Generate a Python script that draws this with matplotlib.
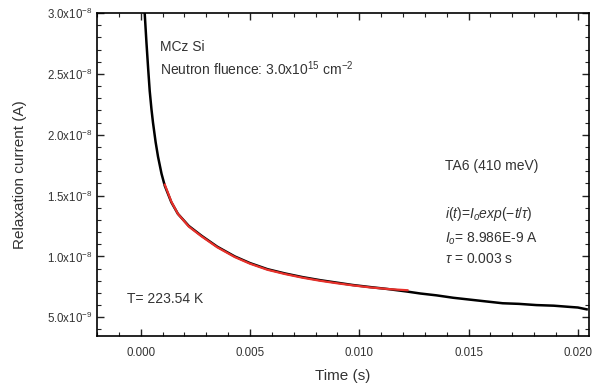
import numpy as np
import matplotlib
matplotlib.use("Agg")
import matplotlib.pyplot as plt
from matplotlib.ticker import FuncFormatter, MultipleLocator

plt.rcParams["font.family"] = ["Liberation Sans", "DejaVu Sans"]
plt.rcParams["mathtext.fontset"] = "custom"
plt.rcParams["mathtext.rm"] = "Liberation Sans"
plt.rcParams["mathtext.it"] = "Liberation Sans:italic"

t_data = [0.00010, 0.00018, 0.00026, 0.00034, 0.00041, 0.00049, 0.00056, 0.00068,
          0.00079, 0.00095, 0.00110, 0.00140, 0.00170, 0.00220, 0.00278, 0.00350,
          0.00430, 0.00500, 0.00580, 0.00660, 0.00740, 0.00820, 0.00895, 0.00970,
          0.01050, 0.01130, 0.01215, 0.01280, 0.01353, 0.01430, 0.01505, 0.01580,
          0.01656, 0.01730, 0.01810, 0.01890, 0.01962, 0.02000, 0.02040]
i_data = [3.25e-8, 3.00e-8, 2.76e-8, 2.54e-8, 2.36e-8, 2.21e-8, 2.10e-8, 1.94e-8,
          1.82e-8, 1.68e-8, 1.58e-8, 1.445e-8, 1.35e-8, 1.25e-8, 1.17e-8, 1.08e-8,
          1.00e-8, 9.45e-9, 8.95e-9, 8.60e-9, 8.30e-9, 8.05e-9, 7.85e-9, 7.65e-9,
          7.48e-9, 7.32e-9, 7.12e-9, 6.95e-9, 6.80e-9, 6.60e-9, 6.45e-9, 6.30e-9,
          6.15e-9, 6.10e-9, 6.00e-9, 5.95e-9, 5.85e-9, 5.80e-9, 5.65e-9]

# exponential fit segment
t_fit = [0.00110, 0.00140, 0.00170, 0.00220, 0.00278, 0.00350, 0.00430, 0.00500,
         0.00580, 0.00660, 0.00740, 0.00820, 0.00895, 0.00970, 0.01050, 0.01130, 0.01220]
i_fit = [1.59e-8, 1.45e-8, 1.35e-8, 1.245e-8, 1.165e-8, 1.075e-8, 9.95e-9, 9.40e-9,
         8.90e-9, 8.55e-9, 8.25e-9, 8.00e-9, 7.80e-9, 7.62e-9, 7.45e-9, 7.32e-9, 7.22e-9]

y_ticks = [5e-9, 1.0e-8, 1.5e-8, 2.0e-8, 2.5e-8, 3.0e-8]
x_ticks = [0.000, 0.005, 0.010, 0.015, 0.020]


def sci_fmt(v, pos):
    if v <= 0:
        return ""
    e = int(np.floor(np.log10(v) + 1e-9))
    m = v / 10 ** e
    return r"%.1fx10$^{%d}$" % (m, e)


fig = plt.figure(figsize=(5.99, 3.85), dpi=100)
ax = fig.add_axes([0.162, 0.127, 0.821, 0.839])

ax.plot(t_data, i_data, color="black", lw=1.8, zorder=2)
ax.plot(t_fit, i_fit, color="#e8302a", lw=1.6, zorder=3)

ax.set_xlim(-0.002, 0.0205)
ax.set_ylim(3.45e-9, 3.0e-8)
ax.set_xticks(x_ticks)
ax.set_yticks(y_ticks)
ax.xaxis.set_minor_locator(MultipleLocator(0.001))
ax.yaxis.set_minor_locator(MultipleLocator(1e-9))
ax.xaxis.set_major_formatter(FuncFormatter(lambda v, p: "%.3f" % v))
ax.yaxis.set_major_formatter(FuncFormatter(sci_fmt))
ax.tick_params(which="both", direction="in", top=True, right=True, colors="#222222",
               labelcolor="#333333", labelsize=8.3)
ax.tick_params(which="major", length=5, width=1)
ax.tick_params(which="minor", length=3, width=0.8)
ax.tick_params(axis="x", pad=8)
for s in ax.spines.values():
    s.set_linewidth(1.2)

ax.set_xlabel("Time (s)", fontsize=11, color="#333333", labelpad=7)
ax.set_ylabel("Relaxation current (A)", fontsize=11, color="#333333", labelpad=14)

tc = "#333333"
ax.text(0.128, 0.882, "MCz Si", transform=ax.transAxes, fontsize=10, color=tc)
ax.text(0.128, 0.808, r"Neutron fluence: 3.0x10$^{15}$ cm$^{-2}$",
        transform=ax.transAxes, fontsize=10, color=tc)
ax.text(0.707, 0.514, "TA6 (410 meV)", transform=ax.transAxes, fontsize=10, color=tc)
ax.text(0.707, 0.365, r"$i(t)$=$I_{o}$$exp(-t/\tau)$", transform=ax.transAxes,
        fontsize=10, color=tc)
ax.text(0.707, 0.29, r"$I_{o}$= 8.986E-9 A", transform=ax.transAxes, fontsize=10, color=tc)
ax.text(0.707, 0.226, r"$\tau$ = 0.003 s", transform=ax.transAxes, fontsize=10, color=tc)
ax.text(0.061, 0.103, "T= 223.54 K", transform=ax.transAxes, fontsize=10, color=tc)

fig.savefig("out.png", dpi=100)
